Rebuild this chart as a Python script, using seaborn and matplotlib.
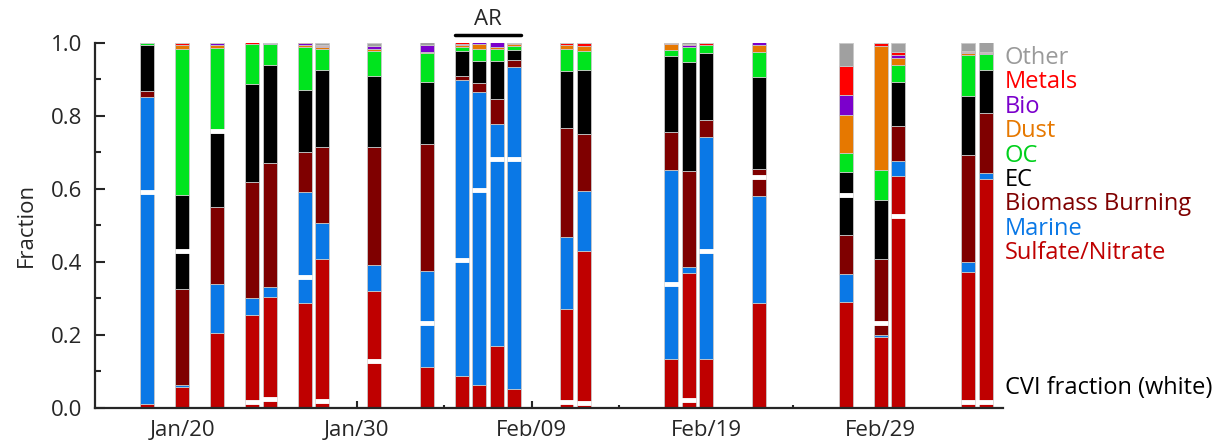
import pandas as pd
import seaborn as sns
import matplotlib.pyplot as plt

# sample days, counted from Jan 15 (2020)
days = [3, 5, 7, 9, 10, 12, 13, 16, 19, 21, 22, 23, 24, 27, 28, 33, 34, 35, 38, 43, 45, 46, 50, 51]

# fractions per class, one entry per bar
other   = [0, 0, 0, 0, 0, 0, 0.007, 0.009, 0.007, 0, 0, 0, 0, 0, 0, 0, 0.005, 0, 0, 0.065, 0, 0.024, 0.021, 0.027]
metals  = [0, 0.007, 0, 0.004, 0.002, 0.003, 0.002, 0, 0, 0.004, 0, 0, 0.005, 0.007, 0.010, 0.005, 0.002, 0.007, 0, 0.080, 0.009, 0.008, 0.003, 0.002]
bio     = [0, 0, 0.007, 0, 0.002, 0.005, 0.003, 0.008, 0.019, 0.003, 0.005, 0.014, 0, 0, 0, 0, 0.007, 0, 0.009, 0.053, 0, 0.010, 0.004, 0.003]
dust    = [0, 0.012, 0.006, 0, 0, 0.005, 0.005, 0.005, 0.004, 0.005, 0.015, 0.004, 0.005, 0.012, 0.013, 0.016, 0, 0, 0.019, 0.106, 0.340, 0.018, 0.005, 0]
oc      = [0.006, 0.399, 0.228, 0.112, 0.057, 0.117, 0.058, 0.068, 0.078, 0.012, 0.032, 0.034, 0.010, 0.060, 0.051, 0.016, 0.041, 0.021, 0.068, 0.052, 0.082, 0.047, 0.113, 0.044]
ec      = [0.127, 0.258, 0.208, 0.268, 0.268, 0.172, 0.210, 0.195, 0.172, 0.069, 0.061, 0.105, 0.027, 0.156, 0.177, 0.208, 0.297, 0.182, 0.252, 0.172, 0.162, 0.121, 0.160, 0.119]
biomass = [0.016, 0.262, 0.212, 0.318, 0.341, 0.109, 0.208, 0.324, 0.347, 0.011, 0.024, 0.066, 0.020, 0.297, 0.157, 0.103, 0.265, 0.047, 0.073, 0.105, 0.208, 0.096, 0.294, 0.164]
marine  = [0.842, 0.005, 0.133, 0.045, 0.026, 0.303, 0.100, 0.071, 0.264, 0.812, 0.802, 0.609, 0.881, 0.199, 0.164, 0.520, 0.016, 0.608, 0.294, 0.079, 0.005, 0.040, 0.028, 0.016]
sulfate = [0.009, 0.057, 0.205, 0.254, 0.304, 0.287, 0.406, 0.319, 0.110, 0.085, 0.062, 0.169, 0.052, 0.269, 0.428, 0.132, 0.368, 0.134, 0.286, 0.288, 0.193, 0.635, 0.371, 0.626]

# CVI fraction (white marks)
cvi = [0.591, 0.429, 0.758, 0.016, 0.023, 0.357, 0.018, 0.128, 0.231, 0.404, 0.596, 0.682, 0.681, 0.015, 0.012, 0.338, 0.021, 0.430, 0.632, 0.582, 0.231, 0.525, 0.014, 0.014]

classes = ['Other', 'Metals', 'Bio', 'Dust', 'OC', 'EC', 'Biomass Burning', 'Marine', 'Sulfate/Nitrate']
colors = ['#a0a0a0', '#ff0000', '#7b00cc', '#e67800', '#00e41e', '#000000', '#7f0000', '#0a78e6', '#bf0000']
text_colors = ['#9a9a9a', '#ff0000', '#7b00cc', '#e67800', '#00d01c', '#000000', '#7f0000', '#0a78e6', '#bf0000']

tick_days = [5, 15, 25, 35, 45]
tick_labels = ['Jan/20', 'Jan/30', 'Feb/09', 'Feb/19', 'Feb/29']

series = [other, metals, bio, dust, oc, ec, biomass, marine, sulfate]
rows = []
for name, vals in zip(classes, series):
    for d, v in zip(days, vals):
        rows.append({'day': d, 'component': name, 'frac': v})
df = pd.DataFrame(rows)

sns.set_style("ticks")
plt.rcParams['font.family'] = ['Open Sans', 'DejaVu Sans']

fig, ax = plt.subplots(figsize=(12.28, 4.46), dpi=100)
fig.subplots_adjust(left=0.0774, right=0.8168, bottom=0.0863, top=0.9047)

# first hue level ends up on top of the stack
sns.histplot(data=df, x='day', weights='frac', hue='component',
             hue_order=classes, palette=dict(zip(classes, colors)),
             multiple='stack', discrete=True, shrink=0.8, alpha=1,
             edgecolor='#c8c8c8', linewidth=0.6, legend=False, ax=ax)

# CVI fraction marks
ax.hlines(cvi, [d - 0.42 for d in days], [d + 0.42 for d in days],
          color='white', linewidth=3.5, zorder=5)

ax.set_xlim(0, 52)
ax.set_ylim(0, 1.0)
ax.set_xticks(tick_days)
ax.set_xticklabels(tick_labels)
ax.set_xticks([10, 20, 30, 40, 50], minor=True)
ax.set_yticks([0, 0.2, 0.4, 0.6, 0.8, 1.0])
ax.set_yticklabels(['0.0', '0.2', '0.4', '0.6', '0.8', '1.0'])
ax.set_yticks([0.1, 0.3, 0.5, 0.7, 0.9], minor=True)
ax.tick_params(axis='both', which='both', direction='in', labelsize=16, width=1.5)
ax.tick_params(axis='y', which='major', length=7, pad=9)
ax.tick_params(axis='y', which='minor', length=4)
ax.tick_params(axis='x', which='major', length=5, pad=9)
ax.tick_params(axis='x', which='minor', length=2.5)
for s in ['left', 'bottom']:
    ax.spines[s].set_linewidth(1.6)
sns.despine(ax=ax)

ax.set_xlabel('')
ax.set_ylabel('Fraction', fontsize=16, labelpad=10)

# class labels on the right
for i, (name, c) in enumerate(zip(classes, text_colors)):
    ax.text(1.002, 0.9575 - i * 0.0668, name, color=c, fontsize=17,
            transform=ax.transAxes, va='center', ha='left')
ax.text(1.002, 0.053, 'CVI fraction (white)', color='black', fontsize=17,
        transform=ax.transAxes, va='center', ha='left')

# atmospheric river period
ax.plot([20.6, 24.4], [1.02, 1.02], color='black', linewidth=2.5,
        transform=ax.get_xaxis_transform(), clip_on=False)
ax.text(22.5, 1.062, 'AR', fontsize=16, ha='center', va='center',
        transform=ax.get_xaxis_transform())

plt.savefig('out.png', dpi=100)
